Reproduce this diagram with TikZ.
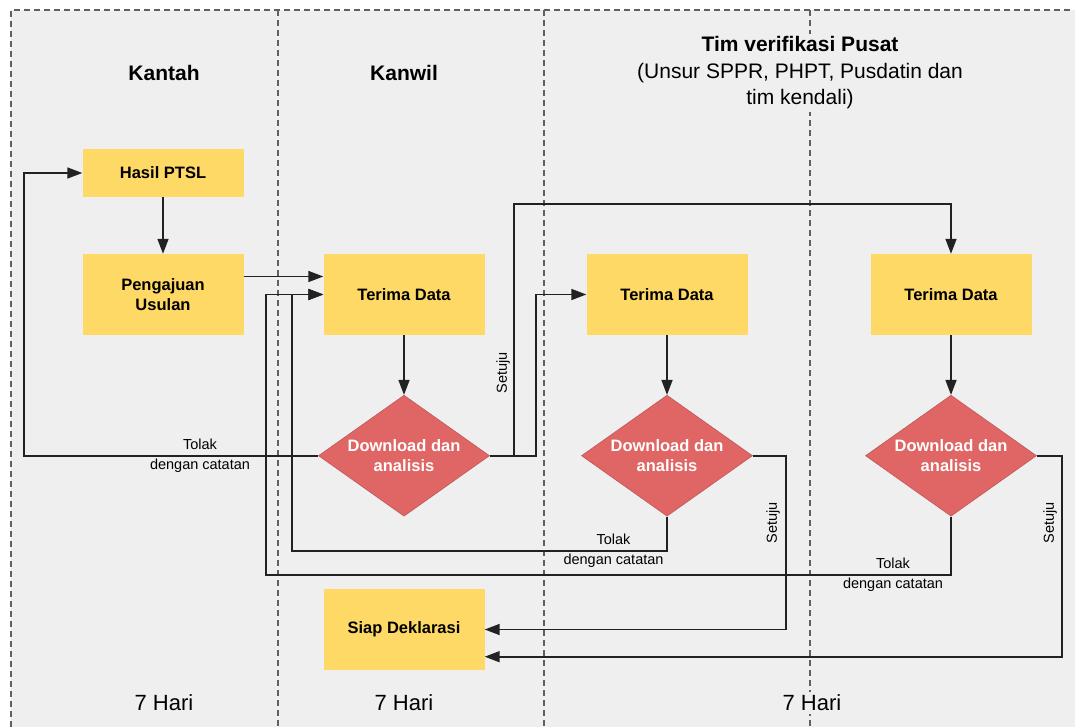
\documentclass[tikz,border=0pt]{standalone}
\usepackage{fontspec}
\setmainfont{Liberation Sans}
\usetikzlibrary{arrows.meta,shapes.geometric,positioning}
\definecolor{latar}{HTML}{EFEFEF}
\definecolor{kuning}{HTML}{FFD966}
\definecolor{merah}{HTML}{E06666}
\definecolor{garis}{HTML}{222222}
\tikzset{
	lane/.style={draw=gray!75!black, line width=1.2pt, dash pattern=on 6pt off 4pt},
	lanetitle/.style={font=\fontsize{21}{26.5}\selectfont, align=center, fill=latar, inner sep=3pt},
	process/.style={fill=kuning, minimum width=161pt, minimum height=81pt, inner sep=0pt,
		align=center, font=\fontsize{16.5}{19.5}\selectfont\bfseries},
	decision/.style={diamond, aspect=1.42, fill=merah, draw=merah!85!black, line width=.6pt,
		inner sep=0pt, minimum width=171pt, minimum height=121pt, text=white,
		align=center, font=\fontsize{16.5}{20.5}\selectfont\bfseries},
	flow/.style={draw=garis, line width=1.6pt, -{Triangle[length=15pt,width=11pt]}},
	note/.style={font=\fontsize{14.5}{20}\selectfont, align=center, inner sep=1pt},
	days/.style={font=\fontsize{22}{26}\selectfont, fill=latar, inner sep=3pt},
}
\begin{document}
\begin{tikzpicture}[x=1pt, y=-1pt]
	\useasboundingbox (0,0) rectangle (1075,727);
	% lanes
	\fill[latar] (11,10) rectangle (1075,727);
	\draw[lane] (1070,10) -- (11,10) -- (11,727);
	\foreach \x in {278,544,810}
		\draw[lane] (\x,10) -- (\x,727);
	\node[lanetitle, font=\fontsize{21}{26.5}\selectfont\bfseries] (kantah) at (164,73) {Kantah};
	\node[lanetitle, font=\fontsize{21}{26.5}\selectfont\bfseries] (kanwil) at (404,73) {Kanwil};
	\node[lanetitle] (pusat) at (800,73) {\textbf{Tim verifikasi Pusat}\\(Unsur SPPR, PHPT, Pusdatin dan\\tim kendali)};
	\node[days] (hari1) at (164,703) {7 Hari};
	\node[days] (hari2) at (404,703) {7 Hari};
	\node[days] (hari3) at (812,703) {7 Hari};
	% steps
	\node[process, minimum height=48pt] (hasil) at (163,173) {Hasil PTSL};
	\node[process] (usulan) at (163,294.5) {Pengajuan\\Usulan};
	\node[process] (terima1) at (404,294.5) {Terima Data};
	\node[process] (terima2) at (667,294.5) {Terima Data};
	\node[process] (terima3) at (951,294.5) {Terima Data};
	\node[process] (siap) at (404,629.5) {Siap Deklarasi};
	\node[decision] (analisis1) at (404,455.7) {Download dan\\analisis};
	\node[decision] (analisis2) at (667,455.7) {Download dan\\analisis};
	\node[decision] (analisis3) at (951,455.7) {Download dan\\analisis};
	% turning points
	\coordinate (kiri) at (24,455.7);
	\coordinate (setuju1) at (514,204);
	\coordinate (lanjut1) at (536,294.5);
	\coordinate (balik2) at (292,551);
	\coordinate (balik3) at (266,575);
	\coordinate (setuju2) at (786,629.5);
	\coordinate (setuju3) at (1062,656.7);
	% connectors
	\draw[flow] (hasil) -- (usulan);
	\draw[flow] ([yshift=18pt]usulan.east) -- ([yshift=18pt]terima1.west);
	\draw[flow] (terima1) -- (analisis1);
	\draw[flow] (terima2) -- (analisis2);
	\draw[flow] (terima3) -- (analisis3);
	\draw[flow] (analisis1.west) -- (kiri) |- (hasil.west);
	\draw[flow] (analisis1.east) -| (setuju1) -| (terima3.north);
	\draw[flow] (analisis1.east) -| (lanjut1) -- (terima2.west);
	\draw[flow] (analisis2.south) |- (balik2) |- (terima1.west);
	\draw[flow] (analisis3.south) |- (balik3) |- (terima1.west);
	\draw[flow] (analisis2.east) -| (setuju2) -- (siap.east);
	\draw[flow] (analisis3.east) -| (setuju3) -- (siap.east |- setuju3);
	% labels
	\node[note] (tolak1) at (200,455.7) {Tolak\\dengan catatan};
	\node[note] (tolak2) at (613.5,550.5) {Tolak\\dengan catatan};
	\node[note] (tolak3) at (893,574.5) {Tolak\\dengan catatan};
	\node[note, rotate=90] (ok1) at (503,373) {Setuju};
	\node[note, rotate=90] (ok2) at (773,523) {Setuju};
	\node[note, rotate=90] (ok3) at (1050,523) {Setuju};
\end{tikzpicture}
\end{document}
